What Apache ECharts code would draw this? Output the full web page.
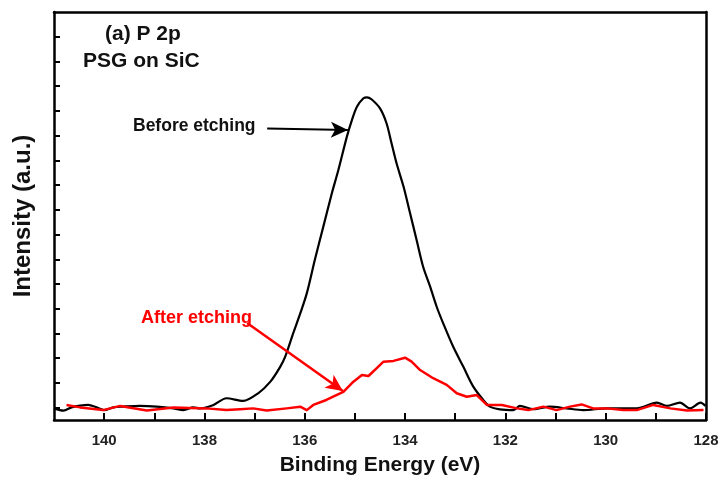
<!DOCTYPE html>
<html>
<head>
<meta charset="utf-8">
<script src="https://cdn.jsdelivr.net/npm/echarts@6/dist/echarts.min.js"></script>
<style>html,body{margin:0;padding:0;background:#fff}#c{width:720px;height:477px}</style>
</head>
<body>
<div id="c"></div>
<script>
// Binding energy (eV) and intensity (a.u.) — Before etching
var beforeE = [141.0,140.81,140.65,140.48,140.32,140.15,140.0,139.82,139.62,139.29,138.95,138.62,138.42,138.22,138.09,137.82,137.56,137.23,136.93,136.69,136.49,136.39,136.23,136.09,135.96,135.80,135.63,135.46,135.33,135.16,135.06,134.96,134.83,134.76,134.67,134.50,134.37,134.27,134.17,134.03,133.90,133.77,133.64,133.50,133.37,133.24,133.04,132.84,132.64,132.44,132.31,132.11,131.84,131.71,131.44,131.11,130.78,130.45,129.98,129.65,129.38,128.98,128.78,128.52,128.32,128.11,128.01];
var beforeI = [-0.03,-0.12,0.01,0.08,0.11,0.01,-0.10,0.01,0.04,0.07,0.04,-0.03,-0.10,0.01,-0.03,0.11,0.38,0.27,0.58,1.04,1.65,2.06,3.01,3.81,4.62,5.97,7.32,8.67,9.61,10.96,11.63,12.17,12.51,12.55,12.47,12.10,11.50,10.69,9.88,8.93,7.86,6.78,5.70,4.89,4.08,3.41,2.46,1.66,0.85,0.31,0.04,-0.07,-0.10,0.07,-0.06,0.04,-0.03,-0.10,-0.03,-0.03,-0.03,0.20,0.07,0.20,-0.03,0.20,0.07];
// After etching
var afterE = [140.75,140.48,140.02,139.68,139.15,138.62,137.96,137.56,137.29,137.03,136.76,136.36,136.09,135.96,135.83,135.57,135.37,135.23,135.03,134.86,134.73,134.57,134.43,134.23,134.00,133.87,133.70,133.44,133.17,132.97,132.77,132.57,132.37,132.07,131.77,131.54,131.24,130.98,130.71,130.48,130.25,129.98,129.65,129.38,129.05,128.71,128.38,128.05];
var afterI = [0.11,0.01,-0.10,0.07,-0.12,0.01,-0.03,-0.10,-0.07,-0.03,-0.12,-0.03,0.04,-0.10,0.11,0.31,0.51,0.64,1.05,1.32,1.28,1.59,1.86,1.89,2.02,1.86,1.52,1.19,0.92,0.58,0.44,0.51,0.11,0.11,-0.03,-0.10,0.04,-0.10,0.04,0.13,-0.03,-0.03,-0.10,-0.10,0.11,-0.03,-0.12,-0.10];
// Axis ticks
var xTickLabels = [128,130,132,134,136,138,140];
var yTickValues = [0,1,2,3,4,5,6,7,8,9,10,11,12,13,14,15];
// Annotation arrows [startE, startI, endE, endI]
var beforeArrow = [136.75, 11.29, 135.14, 11.23];
var afterArrow = [137.15, 3.42, 135.24, 0.67];

function zip(a, b) { return a.map(function (v, i) { return [v, b[i]]; }); }

var chart = echarts.init(document.getElementById('c'));
var FONT = '"Liberation Sans", Arial, sans-serif';
chart.setOption({
  animation: false,
  backgroundColor: '#fff',
  grid: { left: 54, right: 14, top: 12, bottom: 57, containLabel: false, outerBoundsMode: 'none' },
  xAxis: [{
    type: 'value', min: 128, max: 141, interval: 1, inverse: true,
    name: 'Binding Energy (eV)', nameLocation: 'middle', nameGap: 35,
    nameTextStyle: { fontFamily: FONT, fontWeight: 'bold', fontSize: 21, color: '#111' },
    axisLine: { onZero: false, lineStyle: { color: '#000', width: 2.5 } },
    axisTick: { inside: true, length: 7, lineStyle: { color: '#000', width: 2 } },
    axisLabel: {
      margin: 13, fontFamily: FONT, fontWeight: 'bold', fontSize: 15, color: '#222',
      showMaxLabel: false,
      formatter: function (v) { return xTickLabels.indexOf(v) >= 0 ? String(v) : ''; }
    },
    splitLine: { show: false }
  }, {
    type: 'value', min: 128, max: 141, inverse: true, position: 'top',
    axisLine: { onZero: false, lineStyle: { color: '#000', width: 2.5 } },
    axisTick: { show: false }, axisLabel: { show: false }, splitLine: { show: false }
  }],
  yAxis: [{
    type: 'value', min: -0.5, max: 16,
    name: 'Intensity (a.u.)', nameLocation: 'middle', nameGap: 19,
    nameTextStyle: { fontFamily: FONT, fontWeight: 'bold', fontSize: 24, color: '#111' },
    axisLine: { show: true, onZero: false, lineStyle: { color: '#000', width: 2.5 } },
    axisTick: { show: true, inside: true, length: 6, customValues: yTickValues, lineStyle: { color: '#000', width: 2 } },
    axisLabel: { show: false },
    splitLine: { show: false }
  }, {
    type: 'value', min: -0.5, max: 16, position: 'right',
    axisLine: { show: true, onZero: false, lineStyle: { color: '#000', width: 2.5 } },
    axisTick: { show: false }, axisLabel: { show: false }, splitLine: { show: false }
  }],
  series: [{
    name: 'Before etching', type: 'line', data: zip(beforeE, beforeI),
    showSymbol: false, smooth: 0.3,
    lineStyle: { color: '#000', width: 2.2 },
    markLine: {
      silent: true, symbol: ['none', 'arrow'], symbolSize: [12, 17],
      label: { show: false },
      lineStyle: { color: '#000', width: 2, type: 'solid' },
      data: [[{ coord: [beforeArrow[0], beforeArrow[1]] }, { coord: [beforeArrow[2], beforeArrow[3]] }]]
    }
  }, {
    name: 'After etching', type: 'line', data: zip(afterE, afterI),
    showSymbol: false, smooth: false,
    lineStyle: { color: '#ff0000', width: 2.5, join: 'round' },
    markLine: {
      silent: true, symbol: ['none', 'arrow'], symbolSize: [12, 17],
      label: { show: false },
      lineStyle: { color: '#ff0000', width: 2.5, type: 'solid' },
      data: [[{ coord: [afterArrow[0], afterArrow[1]] }, { coord: [afterArrow[2], afterArrow[3]] }]]
    }
  }],
  graphic: [
    { type: 'text', left: 105, top: 24, style: { text: '(a) P 2p', font: 'bold 21px ' + FONT, fill: '#111' } },
    { type: 'text', left: 83, top: 51, style: { text: 'PSG on SiC', font: 'bold 21px ' + FONT, fill: '#111' } },
    { type: 'text', left: 133, top: 117, style: { text: 'Before etching', font: 'bold 17.5px ' + FONT, fill: '#111' } },
    { type: 'text', left: 141, top: 309, style: { text: 'After etching', font: 'bold 18px ' + FONT, fill: '#ff0000' } }
  ]
});
</script>
</body>
</html>
